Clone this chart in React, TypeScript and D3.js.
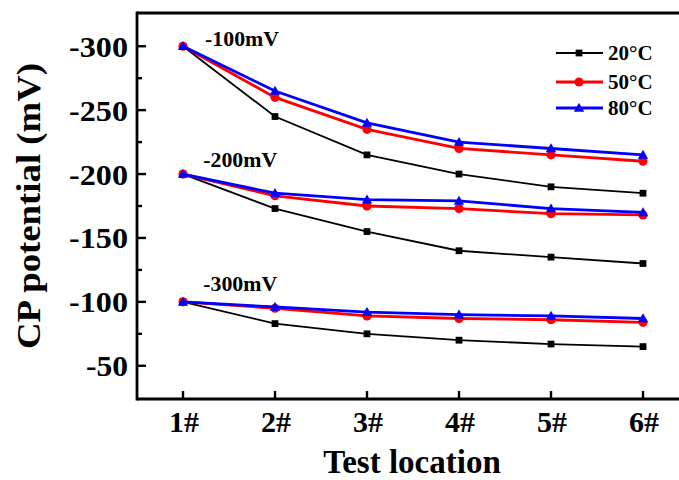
import React from "react";
import * as d3 from "d3";

// Test locations along the pipeline and temperature series
const locations = ["1#", "2#", "3#", "4#", "5#", "6#"];
const temperatures = ["20°C", "50°C", "80°C"];
const groupLabels = ["-100mV", "-200mV", "-300mV"];
const yTicks = [-300, -250, -200, -150, -100, -50];
const yMinorTicks = [-275, -225, -175, -125, -75];

// CP potential (mV) for each polarization group and temperature
const g100_t20 = [-300, -245, -215, -200, -190, -185];
const g100_t50 = [-300, -260, -235, -220, -215, -210];
const g100_t80 = [-300, -265, -240, -225, -220, -215];

const g200_t20 = [-200, -173, -155, -140, -135, -130];
const g200_t50 = [-200, -183, -175, -173, -169, -168];
const g200_t80 = [-200, -185, -180, -179, -173, -170];

const g300_t20 = [-100, -83, -75, -70, -67, -65];
const g300_t50 = [-100, -95, -89, -87, -86, -84];
const g300_t80 = [-100, -96, -92, -90, -89, -87];

// group label anchor (x in location units, y in mV)
const groupLabelX = [1.24, 1.22, 1.22];
const groupLabelY = [-300, -205.5, -108.5];

const W = 679;
const H = 480;
const left = 137;
const right = 689;
const top = 13;
const bottom = 399;

const colors = ["#000000", "#ff0000", "#0000ff"];
const font = "'Liberation Serif', 'Times New Roman', serif";

export default function App() {
  const x = d3.scaleLinear().domain([0.5, 6.5]).range([left, right]);
  const y = d3.scaleLinear().domain([-24, -326]).range([bottom, top]);

  const seriesByTemp = [
    [g100_t20, g200_t20, g300_t20],
    [g100_t50, g200_t50, g300_t50],
    [g100_t80, g200_t80, g300_t80],
  ];

  const line = d3
    .line<number>()
    .x((_, i) => x(i + 1))
    .y((d) => y(d));

  const square = d3.symbol(d3.symbolSquare, 46)()!;
  const circle = d3.symbol(d3.symbolCircle, 66)()!;
  const triangle = d3.symbol(d3.symbolTriangle, 46)()!;
  const shapes = [square, circle, triangle];
  const widths = [1.8, 2.8, 2.8];

  const legendY = [53, 82, 108];

  return (
    <svg
      width={W}
      height={H}
      style={{ position: "absolute", left: 0, top: 0, background: "#fff" }}
      fontFamily={font}
      fontWeight="bold"
    >
      <rect width={W} height={H} fill="#fff" />

      {/* data series */}
      {seriesByTemp.map((groups, ti) => (
        <g key={ti}>
          {groups.map((vals, gi) => (
            <g key={gi}>
              <path
                d={line(vals)!}
                fill="none"
                stroke={colors[ti]}
                strokeWidth={widths[ti]}
              />
              {vals.map((v, i) => (
                <path
                  key={i}
                  d={shapes[ti]}
                  transform={`translate(${x(i + 1)},${y(v) + (ti === 2 ? 0.8 : 0)})`}
                  fill={colors[ti]}
                />
              ))}
            </g>
          ))}
        </g>
      ))}

      {/* group labels */}
      {groupLabels.map((t, i) => (
        <text
          key={t}
          x={x(groupLabelX[i])}
          y={y(groupLabelY[i])}
          fontSize={20}
          textLength={74}
          lengthAdjust="spacingAndGlyphs"
        >
          {t}
        </text>
      ))}

      {/* frame */}
      <g stroke="#000" strokeWidth={2.8} fill="none">
        <line x1={left} x2={W + 5} y1={top} y2={top} />
        <line x1={left} x2={W + 5} y1={bottom} y2={bottom} />
        <line x1={left} x2={left} y1={top - 1.4} y2={bottom + 1.4} />
      </g>

      {/* ticks */}
      <g stroke="#000" strokeWidth={2.4}>
        {yTicks.map((t) => (
          <line key={t} x1={left} x2={left + 9} y1={y(t)} y2={y(t)} />
        ))}
        {yMinorTicks.map((t) => (
          <line key={t} x1={left} x2={left + 5} y1={y(t)} y2={y(t)} />
        ))}
        {locations.map((_, i) => (
          <line key={i} x1={x(i + 1)} x2={x(i + 1)} y1={bottom} y2={bottom - 8} />
        ))}
      </g>
      {yTicks.map((t) => (
        <text
          key={t}
          x={left - 9}
          y={y(t)}
          dy="0.35em"
          textAnchor="end"
          fontSize={30}
          textLength={t > -100 ? 42 : 59}
          lengthAdjust="spacingAndGlyphs"
        >
          {t}
        </text>
      ))}
      {locations.map((l, i) => (
        <text key={l} x={x(i + 1) + 1} y={432} textAnchor="middle" fontSize={30}>
          {l}
        </text>
      ))}

      {/* axis titles */}
      <text x={412} y={473} textAnchor="middle" fontSize={33}>
        Test location
      </text>
      <text
        transform={`translate(40,206) rotate(-90)`}
        textAnchor="middle"
        fontSize={34}
        textLength={286}
        lengthAdjust="spacingAndGlyphs"
      >
        CP potential (mV)
      </text>

      {/* legend */}
      {temperatures.map((t, i) => (
        <g key={t} transform={`translate(0,${legendY[i]})`}>
          <line x1={556} x2={603} y1={0} y2={0} stroke={colors[i]} strokeWidth={widths[i]} />
          <path d={shapes[i]} transform={`translate(579,${i === 2 ? 0.8 : 0})`} fill={colors[i]} />
          <text x={608} y={0} dy="0.35em" fontSize={21}>
            {t}
          </text>
        </g>
      ))}
    </svg>
  );
}
